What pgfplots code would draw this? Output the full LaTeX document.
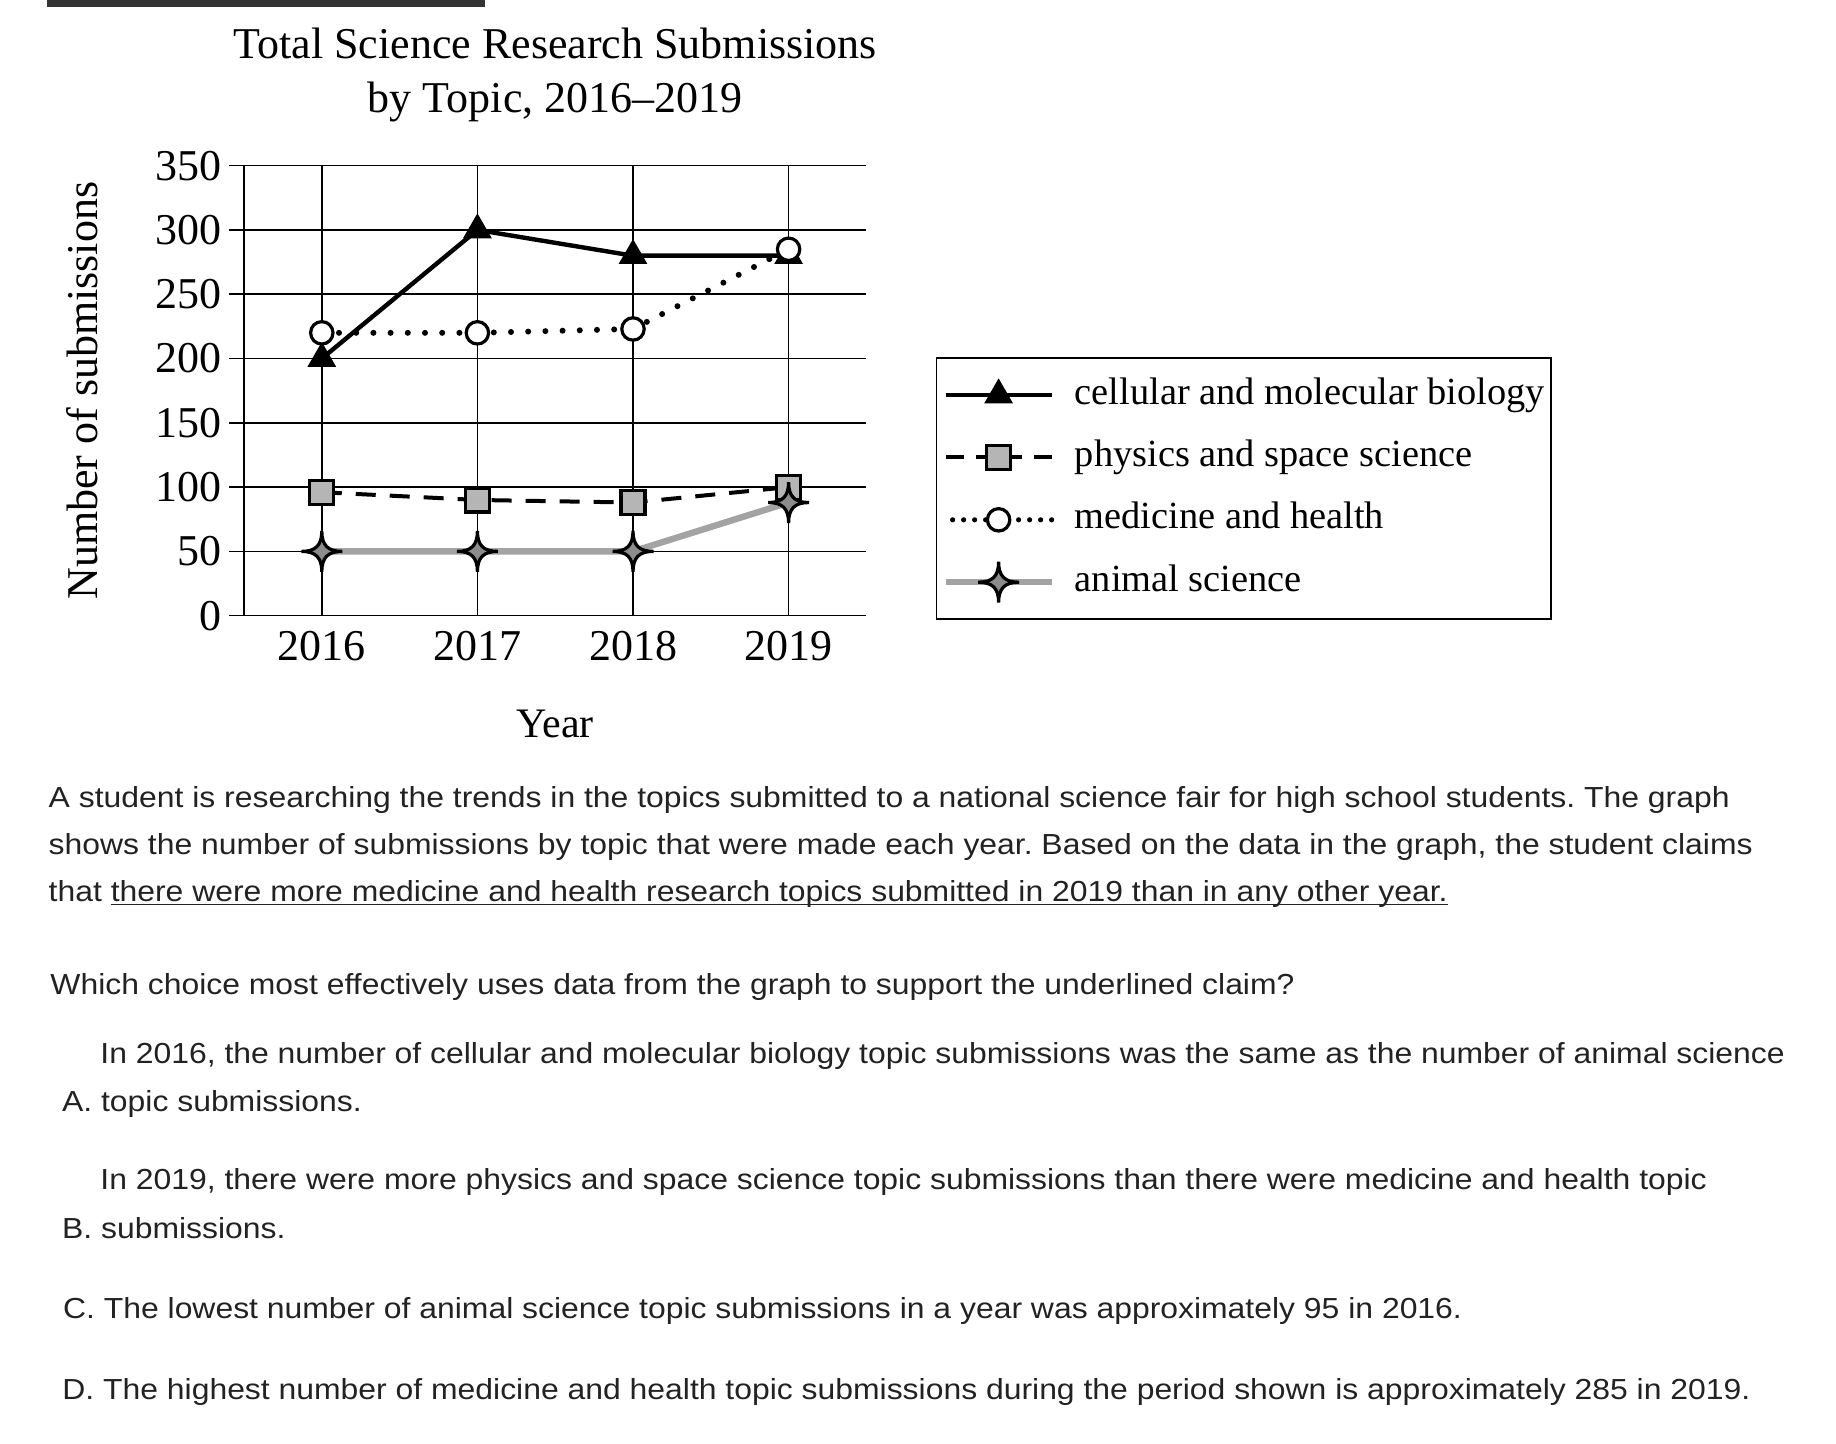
\documentclass[border=0pt]{standalone}
\usepackage{fontspec}
\setmainfont{Liberation Serif}
\newfontfamily\bodyfont[FakeStretch=1.1]{Liberation Sans}
\usepackage{pgfplots}
\pgfplotsset{compat=1.18}
\definecolor{textgray}{HTML}{222222}
\definecolor{bargray}{HTML}{333333}
\definecolor{sqgray}{HTML}{B5B5B5}
\definecolor{stargray}{HTML}{8C8C8C}
\definecolor{linegray}{HTML}{A3A3A3}
\pgfdeclareplotmark{star4}{%
  \pgfpathmoveto{\pgfqpoint{0pt}{\pgfplotmarksize}}%
  \pgfpathcurveto{\pgfqpoint{0pt}{0.3\pgfplotmarksize}}{\pgfqpoint{0.3\pgfplotmarksize}{0pt}}{\pgfqpoint{\pgfplotmarksize}{0pt}}%
  \pgfpathcurveto{\pgfqpoint{0.3\pgfplotmarksize}{0pt}}{\pgfqpoint{0pt}{-0.3\pgfplotmarksize}}{\pgfqpoint{0pt}{-\pgfplotmarksize}}%
  \pgfpathcurveto{\pgfqpoint{0pt}{-0.3\pgfplotmarksize}}{\pgfqpoint{-0.3\pgfplotmarksize}{0pt}}{\pgfqpoint{-\pgfplotmarksize}{0pt}}%
  \pgfpathcurveto{\pgfqpoint{-0.3\pgfplotmarksize}{0pt}}{\pgfqpoint{0pt}{0.3\pgfplotmarksize}}{\pgfqpoint{0pt}{\pgfplotmarksize}}%
  \pgfpathclose
  \pgfusepathqfillstroke
}
\newcommand\ul[1]{\setbox0\hbox{#1}\rlap{\rule[-1.8pt]{\wd0}{0.8pt}}\box0}
\frenchspacing
\begin{document}
\begin{tikzpicture}[txt/.style={anchor=base west, inner sep=0pt, text=textgray, font=\bodyfont\fontsize{14.5}{17}\selectfont}]
\path[use as bounding box] (0pt,0pt) rectangle (918pt,722pt);
\fill[bargray] (23.5pt,718.5pt) rectangle (242.5pt,722pt);
\begin{axis}[
  at={(122pt,414.15pt)}, anchor=south west,
  scale only axis, width=311.2pt, height=225pt,
  xmin=2015.5, xmax=2019.5, ymin=0, ymax=350,
  axis x line=bottom, axis y line=left,
  axis line style={-, line width=0.8pt, black},
  xtick={2016,2017,2018,2019}, xticklabels={2016,2017,2018,2019},
  ytick={0,50,100,150,200,250,300,350},
  grid=major, grid style={black, line width=0.8pt},
  tick align=outside, major tick length=7.5pt,
  xtick style={draw=none}, ytick style={black, line width=0.8pt},
  ticklabel style={font=\fontsize{22}{22}\selectfont},
  xticklabel style={yshift=3.5pt},
  /pgf/number format/assume math mode=true,
  title={Total Science Research Submissions\\by Topic, 2016--2019},
  title style={at={(axis description cs:0.5,1.069)}, anchor=south, inner sep=0pt, align=center, font=\fontsize{22}{27.2}\selectfont},
  xlabel={Year},
  xlabel style={at={(axis description cs:0.5,-0.24)}, anchor=center, inner sep=0pt, font=\fontsize{21}{21}\selectfont},
  ylabel={Number of submissions},
  ylabel style={at={(axis description cs:-0.2603,0.5)}, anchor=center, inner sep=0pt, font=\fontsize{22}{22}\selectfont},
  clip=false,
  legend cell align=left,
  legend style={at={(axis description cs:1.1112,0.5744)}, anchor=north west,
    draw=black, line width=0.8pt, inner xsep=1pt, inner ysep=7pt, row sep=8.2pt,
    font=\fontsize{19.2}{19.2}\selectfont,
    nodes={inner sep=2pt, text height=14pt, text depth=5pt},
    /tikz/every odd column/.append style={column sep=8pt}},
  legend image code/.code={\path (-2pt,0pt); \draw[mark repeat=2, mark phase=2] plot coordinates {(0pt,0pt) (26.5pt,0pt) (53pt,0pt)};},
]
\addplot[black, line width=2.2pt, mark=triangle*, mark size=7.8pt,
  mark options={solid, fill=black, line width=0.5pt}]
  coordinates {(2016,200) (2017,300) (2018,280) (2019,280)};
\addlegendentry{cellular and molecular biology}
\addplot[black, line width=2pt, dash pattern=on 10pt off 7pt, mark=square*, mark size=6pt,
  mark options={solid, fill=sqgray, line width=1.6pt},
  legend image code/.code={\path (-2pt,0pt); \draw[mark repeat=2, mark phase=2, dash pattern=on 9pt off 6pt on 23pt off 6pt] plot coordinates {(0pt,0pt) (26.5pt,0pt) (53pt,0pt)};}]
  coordinates {(2016,96) (2017,90) (2018,88) (2019,100)};
\addlegendentry{physics and space science}
\addplot[black, line width=3pt, line cap=round, dash pattern=on 0pt off 8.6pt, mark=*, mark size=5.6pt,
  mark options={solid, fill=white, line width=1.6pt},
  legend image code/.code={\path (-2pt,0pt); \draw[mark repeat=2, mark phase=2, line width=2.6pt, dash pattern=on 0pt off 5.5pt, dash phase=2pt] plot coordinates {(0pt,0pt) (26.5pt,0pt) (53pt,0pt)};}]
  coordinates {(2016,220) (2017,220) (2018,223) (2019,285)};
\addlegendentry{medicine and health}
\addplot[linegray, line width=3.2pt, mark=star4, mark size=10.2pt,
  mark options={solid, draw=black, fill=stargray, line width=1.6pt}]
  coordinates {(2016,50) (2017,50) (2018,50) (2019,88)};
\addlegendentry{animal science}
\end{axis}
\node[txt] at (24.15pt,318.35pt) {A student is researching the trends in the topics submitted to a national science fair for high school students. The graph};
\node[txt] at (24.15pt,294.5pt) {shows the number of submissions by topic that were made each year. Based on the data in the graph, the student claims};
\node[txt] at (24.15pt,271.15pt) {that \ul{there were more medicine and health research topics submitted in 2019 than in any other year.}};
\node[txt] at (25pt,224.5pt) {Which choice most effectively uses data from the graph to support the underlined claim?};
\node[txt] at (50pt,190.35pt) {In 2016, the number of cellular and molecular biology topic submissions was the same as the number of animal science};
\node[txt] at (30.85pt,166.15pt) {A. topic submissions.};
\node[txt] at (50pt,127pt) {In 2019, there were more physics and space science topic submissions than there were medicine and health topic};
\node[txt] at (30.85pt,102.85pt) {B. submissions.};
\node[txt] at (31.35pt,62.85pt) {C. The lowest number of animal science topic submissions in a year was approximately 95 in 2016.};
\node[txt] at (31pt,22pt) {D. The highest number of medicine and health topic submissions during the period shown is approximately 285 in 2019.};
\end{tikzpicture}
\end{document}
